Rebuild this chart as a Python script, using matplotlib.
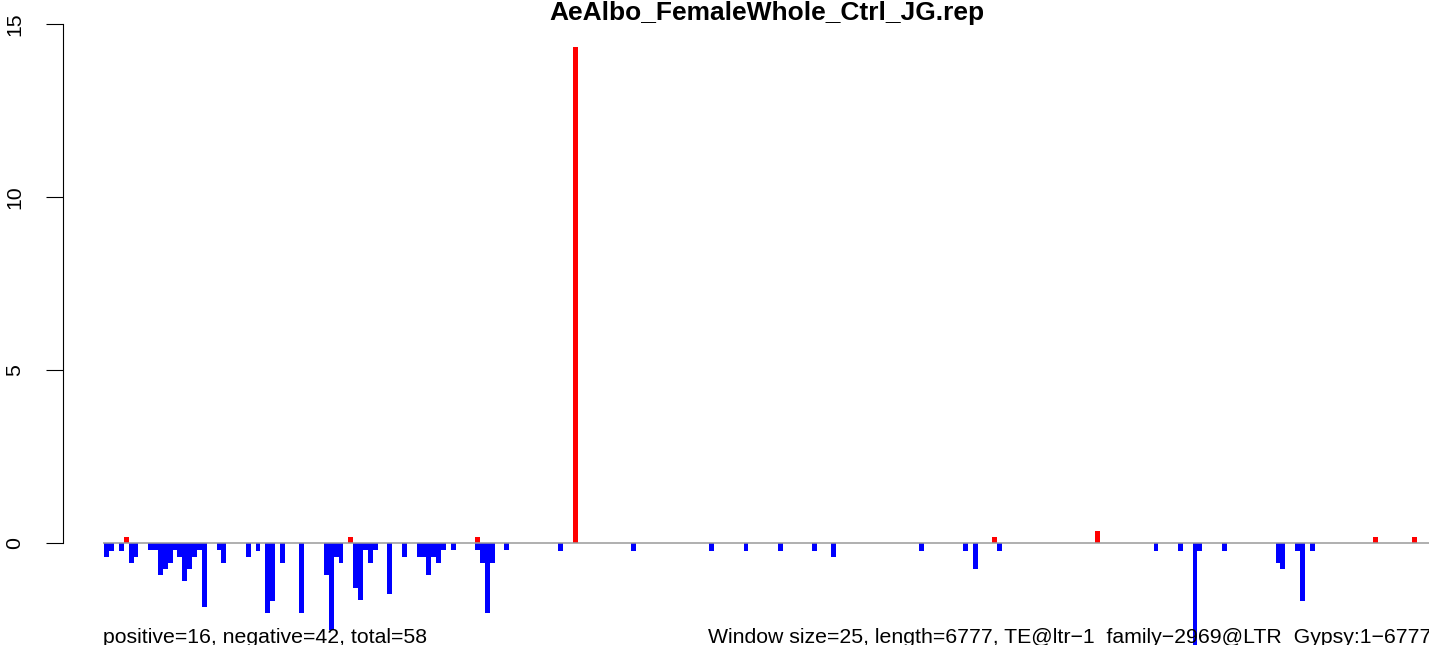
import matplotlib
matplotlib.use("Agg")
import matplotlib.pyplot as plt

plt.rcParams['font.family'] = ['Liberation Sans', 'DejaVu Sans']

# ---- data (window index -> value; window size 25 bp) ----
title = "AeAlbo_FemaleWhole_Ctrl_JG.rep"
left_note = "positive=16, negative=42, total=58"
right_note = "Window size=25, length=6777, TE@ltr\u22121_family\u22122969@LTR_Gypsy:1\u22126777"

pos_windows = [4, 50, 76, 96, 182, 203, 260, 268]
pos_values = [0.18, 0.18, 0.18, 14.35, 0.18, 0.36, 0.18, 0.18]

neg_windows = [0, 1, 3, 5, 6, 9, 10, 11, 12, 13, 14, 15, 16, 17, 18, 19, 20,
               23, 24, 29, 31, 33, 34, 36, 40, 45, 46, 47, 48, 51, 52, 53, 54,
               55, 58, 61, 64, 65, 66, 67, 68, 69, 71, 76, 77, 78, 79, 82, 93,
               108, 124, 131, 138, 145, 149, 167, 176, 178, 183, 215, 220, 223,
               224, 229, 240, 241, 244, 245, 247]
neg_values = [0.39, 0.21, 0.21, 0.56, 0.39, 0.2, 0.2, 0.93, 0.74, 0.56, 0.2,
              0.39, 1.10, 0.74, 0.39, 0.2, 1.84,
              0.2, 0.56, 0.39, 0.21, 2.0, 1.66, 0.56, 2.0, 0.93, 2.5, 0.39,
              0.56, 1.29, 1.65, 0.2, 0.56,
              0.2, 1.46, 0.39, 0.39, 0.39, 0.93, 0.39, 0.56, 0.2, 0.2, 0.2,
              0.56, 2.0, 0.56, 0.2, 0.21,
              0.21, 0.21, 0.21, 0.21, 0.21, 0.39, 0.21, 0.21, 0.74, 0.21,
              0.21, 0.21, 3.1,
              0.21, 0.21, 0.56, 0.74, 0.21, 1.66, 0.21]

n_windows = 272
y_ticks = [0, 5, 10, 15]

W, H = 1429, 645
fig = plt.figure(figsize=(W / 100, H / 100), dpi=100)
ax = fig.add_axes([63 / W, 0, 1 - 63 / W, 1])

ax.bar(pos_windows, pos_values, width=1, align='edge', color='#ff0000',
       linewidth=0, antialiased=False, zorder=2)
ax.bar(neg_windows, [-v for v in neg_values], width=1, align='edge',
       color='#0000ff', linewidth=0, antialiased=False, zorder=2)
ax.hlines(0, -0.25, n_windows, color='#9a9a9a', lw=1.1, zorder=3)

ax.set_xlim(-8.46, 271.45)
ax.set_ylim(-2.939, 15.702)

for s in ['top', 'right', 'bottom']:
    ax.spines[s].set_visible(False)
ax.spines['left'].set_bounds(0, 15)
ax.spines['left'].set_linewidth(0.8)
ax.set_xticks([])
ax.set_yticks(y_ticks)
ax.set_yticklabels([str(t) for t in y_ticks], rotation=90, va='center')
ax.tick_params(axis='y', length=12, width=0.8, pad=16, labelsize=15.3)
ax.patch.set_alpha(0)

fig.text(767 / W, 1 - 20 / H, title, ha='center', va='baseline',
         fontsize=19, fontweight='bold')
fig.text(103 / W, 1 - 643 / H, left_note, ha='left', va='baseline', fontsize=15.3)
fig.text(708 / W, 1 - 643 / H, right_note, ha='left', va='baseline', fontsize=15.3)

fig.savefig("out.png", dpi=100)
